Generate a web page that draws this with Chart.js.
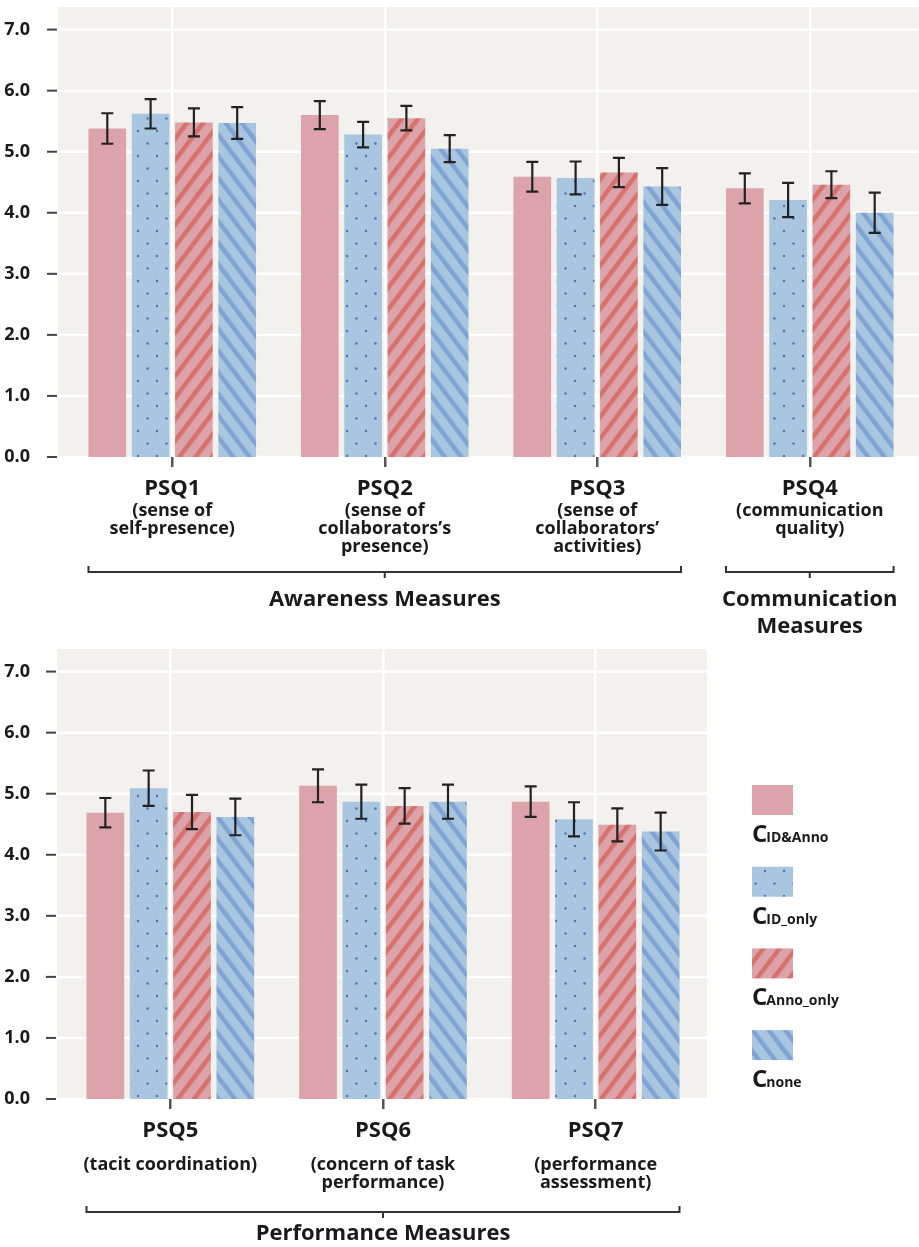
<!DOCTYPE html>
<html>
<head>
<meta charset="utf-8">
<script src="https://cdn.jsdelivr.net/npm/chart.js@4.4.1/dist/chart.umd.min.js"></script>
<style>
  body { margin: 0; background: #fff; }
  #topWrap { position: absolute; left: 0; top: 0; width: 919px; height: 640px; }
  #bottomWrap { position: absolute; left: 0; top: 640px; width: 919px; height: 607px; }
</style>
</head>
<body>
<div id="topWrap"><canvas id="topChart"></canvas></div>
<div id="bottomWrap"><canvas id="bottomChart"></canvas></div>
<script>
// values (mean and error bar half-height)
var yTicks = [0, 1, 2, 3, 4, 5, 6, 7];
var seriesNames = ['ID&Anno', 'ID_only', 'Anno_only', 'none'];

var topCategories = ['PSQ1', 'PSQ2', 'PSQ3', 'PSQ4'];
var topNotes = [
  ['(sense of', 'self-presence)'],
  ['(sense of', 'collaborators\u2019s', 'presence)'],
  ['(sense of', 'collaborators\u2019', 'activities)'],
  ['(communication', 'quality)']
];
var topGroupNames = [['Awareness Measures'], ['Communication', 'Measures']];
var topGroupSpans = [[0, 2], [3, 3]];

var idAnnoTop = [5.38, 5.60, 4.59, 4.40];
var idAnnoTopErr = [0.25, 0.23, 0.245, 0.245];
var idOnlyTop = [5.62, 5.28, 4.57, 4.21];
var idOnlyTopErr = [0.24, 0.21, 0.27, 0.28];
var annoOnlyTop = [5.48, 5.55, 4.66, 4.46];
var annoOnlyTopErr = [0.23, 0.20, 0.24, 0.22];
var noneTop = [5.47, 5.05, 4.43, 4.00];
var noneTopErr = [0.26, 0.22, 0.30, 0.33];

var bottomCategories = ['PSQ5', 'PSQ6', 'PSQ7'];
var bottomNotes = [
  ['(tacit coordination)'],
  ['(concern of task', 'performance)'],
  ['(performance', 'assessment)']
];
var bottomGroupNames = [['Performance Measures']];
var bottomGroupSpans = [[0, 2]];

var idAnnoBottom = [4.69, 5.13, 4.87];
var idAnnoBottomErr = [0.24, 0.27, 0.25];
var idOnlyBottom = [5.09, 4.87, 4.58];
var idOnlyBottomErr = [0.29, 0.28, 0.28];
var annoOnlyBottom = [4.70, 4.80, 4.49];
var annoOnlyBottomErr = [0.28, 0.29, 0.27];
var noneBottom = [4.62, 4.87, 4.38];
var noneBottomErr = [0.30, 0.28, 0.31];

var FONT = "'Open Sans', 'Noto Sans', sans-serif";
var INK = '#1a1a1a';
var PINK = '#dca3aa', BLUE = '#a9c6e0';
Chart.defaults.font.family = FONT;
Chart.defaults.color = INK;

function dotPattern(ctx, base, dot) {
  var c = document.createElement('canvas');
  c.width = 19; c.height = 25;
  var g = c.getContext('2d');
  g.fillStyle = base; g.fillRect(0, 0, 19, 25);
  g.fillStyle = dot;
  [[5, 6], [14.5, 18.5]].forEach(function (p) {
    g.beginPath(); g.arc(p[0], p[1], 1.2, 0, Math.PI * 2); g.fill();
  });
  return ctx.createPattern(c, 'repeat');
}

function stripePattern(ctx, base, line, angle) {
  var c = document.createElement('canvas');
  c.width = 13; c.height = 13;
  var g = c.getContext('2d');
  g.fillStyle = base; g.fillRect(0, 0, 13, 13);
  g.fillStyle = line; g.fillRect(0, 0, 4.5, 13);
  var p = ctx.createPattern(c, 'repeat');
  p.setTransform(new DOMMatrix().rotate(angle));
  return p;
}

function makeDatasets(ctx, values, errors) {
  var fills = [
    PINK,
    dotPattern(ctx, BLUE, '#5070b2'),
    stripePattern(ctx, PINK, '#d7716c', 37),
    stripePattern(ctx, BLUE, '#7fa3d3', -37)
  ];
  return values.map(function (v, i) {
    return {
      label: seriesNames[i],
      data: v,
      errors: errors[i],
      backgroundColor: fills[i],
      borderWidth: 0,
      categoryPercentage: 0.815,
      barPercentage: 0.87
    };
  });
}

var errorBars = {
  id: 'errorBars',
  afterDatasetsDraw: function (chart) {
    var ctx = chart.ctx, y = chart.scales.y;
    ctx.save();
    ctx.strokeStyle = '#222';
    ctx.lineWidth = 2.2;
    chart.data.datasets.forEach(function (ds, i) {
      chart.getDatasetMeta(i).data.forEach(function (bar, j) {
        var hi = y.getPixelForValue(ds.data[j] + ds.errors[j]);
        var lo = y.getPixelForValue(ds.data[j] - ds.errors[j]);
        ctx.beginPath();
        ctx.moveTo(bar.x, hi); ctx.lineTo(bar.x, lo);
        ctx.moveTo(bar.x - 6, hi); ctx.lineTo(bar.x + 6, hi);
        ctx.moveTo(bar.x - 6, lo); ctx.lineTo(bar.x + 6, lo);
        ctx.stroke();
      });
    });
    ctx.restore();
  }
};

function decor(cfg) {
  return {
    id: 'decor',
    beforeDraw: function (chart) {
      var ctx = chart.ctx, a = chart.chartArea, y = chart.scales.y;
      var left = a.left - cfg.padLeft, right = a.right + cfg.padRight;
      ctx.save();
      ctx.fillStyle = '#f2f1ee';
      ctx.fillRect(left, a.top, right - left, a.bottom - a.top);
      yTicks.forEach(function (t) {
        var py = y.getPixelForValue(t);
        ctx.strokeStyle = '#ffffff'; ctx.lineWidth = 2.5;
        ctx.beginPath(); ctx.moveTo(left, py); ctx.lineTo(right, py); ctx.stroke();
        ctx.strokeStyle = '#444'; ctx.lineWidth = 2;
        ctx.beginPath(); ctx.moveTo(left - 11, py); ctx.lineTo(left - 1, py); ctx.stroke();
      });
      ctx.restore();
    },
    afterDraw: function (chart) {
      var ctx = chart.ctx, a = chart.chartArea, x = chart.scales.x;
      ctx.save();
      ctx.fillStyle = INK;
      ctx.textAlign = 'center';
      ctx.textBaseline = 'alphabetic';
      ctx.font = 'bold 18px ' + FONT;
      cfg.notes.forEach(function (lines, i) {
        var cx = x.getPixelForValue(i);
        lines.forEach(function (s, k) {
          ctx.fillText(s, cx, a.bottom + cfg.noteTop + k * 18);
        });
      });

      var first = chart.getDatasetMeta(0).data;
      var last = chart.getDatasetMeta(chart.data.datasets.length - 1).data;
      var by = a.bottom + cfg.bracketTop;
      ctx.strokeStyle = '#333';
      ctx.lineWidth = 2;
      cfg.spans.forEach(function (span, g) {
        var l = first[span[0]].x - first[span[0]].width / 2;
        var r = last[span[1]].x + last[span[1]].width / 2;
        var mid = (l + r) / 2;
        ctx.beginPath();
        ctx.moveTo(l, by - 6); ctx.lineTo(l, by); ctx.lineTo(r, by); ctx.lineTo(r, by - 6);
        ctx.moveTo(mid, by); ctx.lineTo(mid, by + 6);
        ctx.stroke();
        ctx.font = 'bold 22px ' + FONT;
        cfg.groups[g].forEach(function (s, k) {
          ctx.fillText(s, mid, by + cfg.groupGap + k * 27);
        });
      });

      if (cfg.legend) {
        ctx.textAlign = 'left';
        chart.data.datasets.forEach(function (ds, i) {
          var bx = 752, top = 145 + i * 81.7;
          ctx.fillStyle = ds.backgroundColor;
          ctx.fillRect(bx, top, 41, 30);
          ctx.fillStyle = INK;
          ctx.font = 'bold 24px ' + FONT;
          ctx.fillText('C', bx, top + 57);
          var w = ctx.measureText('C').width;
          ctx.font = 'bold 14px ' + FONT;
          ctx.fillText(seriesNames[i], bx + w - 1, top + 57);
        });
      }
      ctx.restore();
    }
  };
}

function makeChart(id, labels, values, errors, layout, cfg) {
  var canvas = document.getElementById(id);
  var ctx = canvas.getContext('2d');
  return new Chart(ctx, {
    type: 'bar',
    data: { labels: labels, datasets: makeDatasets(ctx, values, errors) },
    options: {
      responsive: true,
      maintainAspectRatio: false,
      animation: false,
      layout: { padding: layout.padding },
      plugins: { legend: { display: false }, tooltip: { enabled: false } },
      scales: {
        x: {
          grid: { color: '#ffffff', lineWidth: 2.5, offset: false, tickColor: '#555', tickLength: 10 },
          border: { display: false },
          ticks: { font: { size: 22, weight: 'bold' }, color: INK, padding: 9 },
          afterFit: function (s) { s.height = layout.xHeight; }
        },
        y: {
          min: 0,
          max: 7.37,
          grid: { display: false },
          border: { display: false },
          ticks: {
            font: { size: 18, weight: 'bold' }, color: INK, padding: layout.yWidth - 38,
            callback: function (v) { return Number(v).toFixed(1); }
          },
          afterBuildTicks: function (s) { s.ticks = yTicks.map(function (v) { return { value: v }; }); },
          afterFit: function (s) {
            s.width = layout.yWidth;
            s.paddingTop = 0;
            s.paddingBottom = 0;
          }
        }
      }
    },
    plugins: [decor(cfg), errorBars]
  });
}

makeChart('topChart', topCategories,
  [idAnnoTop, idOnlyTop, annoOnlyTop, noneTop],
  [idAnnoTopErr, idOnlyTopErr, annoOnlyTopErr, noneTopErr],
  { padding: { top: 7, right: 3, left: 0, bottom: 0 }, xHeight: 183, yWidth: 66 },
  { padLeft: 8, padRight: 3, notes: topNotes, noteTop: 59, bracketTop: 115, groupGap: 34,
    spans: topGroupSpans, groups: topGroupNames, legend: false });

makeChart('bottomChart', bottomCategories,
  [idAnnoBottom, idOnlyBottom, annoOnlyBottom, noneBottom],
  [idAnnoBottomErr, idOnlyBottomErr, annoOnlyBottomErr, noneBottomErr],
  { padding: { top: 9, right: 217, left: 0, bottom: 0 }, xHeight: 148, yWidth: 64 },
  { padLeft: 7, padRight: 5, notes: bottomNotes, noteTop: 71, bracketTop: 113, groupGap: 28,
    spans: bottomGroupSpans, groups: bottomGroupNames, legend: true });
</script>
</body>
</html>
